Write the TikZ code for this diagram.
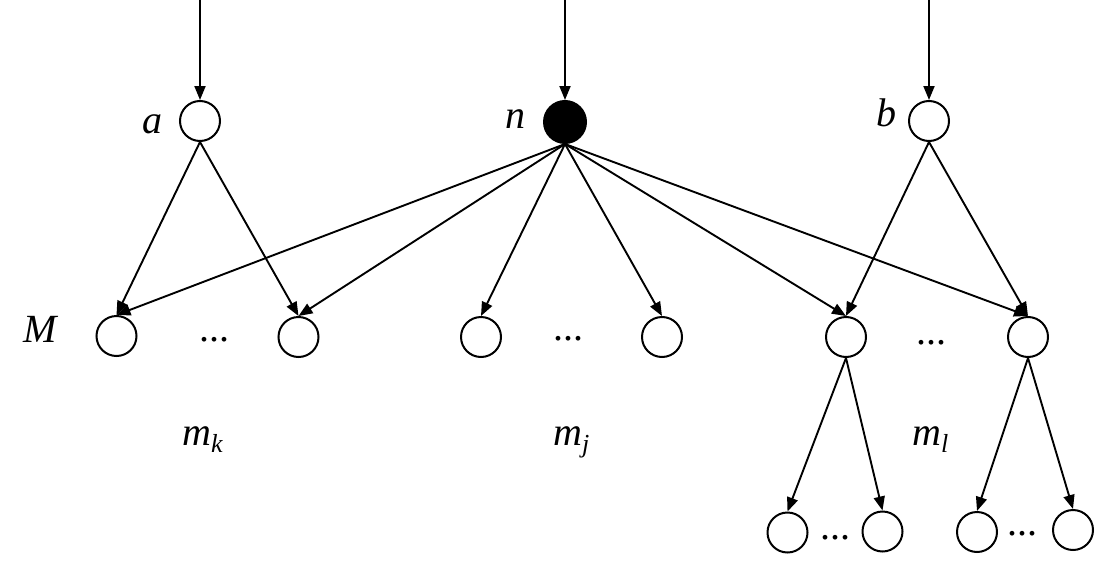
\documentclass[tikz,border=0pt]{standalone}
\usepackage{fontspec}
\setmainfont{Liberation Serif}
\usetikzlibrary{arrows.meta}
\begin{document}
\begin{tikzpicture}[x=1pt,y=-1pt,
  vtx/.style={circle,draw,line width=2pt,minimum size=40pt,inner sep=0pt},
  blk/.style={circle,fill=black,draw,line width=2pt,minimum size=42pt,inner sep=0pt},
  arr/.style={line width=1.9pt,-{Triangle[length=14pt,width=11pt]}},
  lbl/.style={font=\fontsize{40}{40}\selectfont\itshape,anchor=base,inner sep=0pt},
  dts/.style={font=\fontsize{40}{40}\selectfont,anchor=base,inner sep=0pt}]
\useasboundingbox (0,0) rectangle (1095,570);
% top nodes
\node[vtx] (a) at (200,121) {};
\node[blk] (n) at (565,122) {};
\node[vtx] (b) at (929,121) {};
\coordinate (ta) at (200,0);
\coordinate (tn) at (565,0);
\coordinate (tb) at (929,0);
% M row
\node[vtx] (m1) at (116.5,336) {};
\node[vtx] (m2) at (298.5,337) {};
\node[vtx] (m3) at (481,337) {};
\node[vtx] (m4) at (662,337) {};
\node[vtx] (m5) at (846,337) {};
\node[vtx] (m6) at (1028,337) {};
% bottom row
\node[vtx] (c1) at (787.5,532.5) {};
\node[vtx] (c2) at (882.5,531.5) {};
\node[vtx] (c3) at (977,532) {};
\node[vtx] (c4) at (1073,530) {};
% labels
\node[lbl] (la) at (152,133) {a};
\node[lbl] (ln) at (515,128) {n};
\node[lbl] (lb) at (886,126) {b};
\node[lbl] (lM) at (40,342) {M};
\node[lbl,anchor=base west] (lmk) at (182,445) {m\raisebox{-7pt}{\fontsize{26}{26}\selectfont k}};
\node[lbl,anchor=base west] (lmj) at (553,445) {m\raisebox{-7pt}{\fontsize{26}{26}\selectfont j}};
\node[lbl,anchor=base west] (lml) at (912,445) {m\raisebox{-7pt}{\fontsize{26}{26}\selectfont l}};
% dots
\node[dts] (d1) at (214,341) {...};
\node[dts] (d2) at (568,340) {...};
\node[dts] (d3) at (931,344) {...};
\node[dts] (d4) at (835,539) {...};
\node[dts] (d5) at (1022,535) {...};
% edges
\draw[arr] (ta) -- (a.north);
\draw[arr] (tn) -- (n.north);
\draw[arr] (tb) -- (b.north);
\draw[arr] (a.south) -- (m1.north);
\draw[arr] (a.south) -- (m2.north);
\foreach \t in {m1,m2,m3,m4,m5,m6} \draw[arr] (n.south) -- (\t.north);
\draw[arr] (b.south) -- (m5.north);
\draw[arr] (b.south) -- (m6.north);
\draw[arr] (m5.south) -- (c1.north);
\draw[arr] (m5.south) -- (c2.north);
\draw[arr] (m6.south) -- (c3.north);
\draw[arr] (m6.south) -- (c4.north);
\end{tikzpicture}
\end{document}
